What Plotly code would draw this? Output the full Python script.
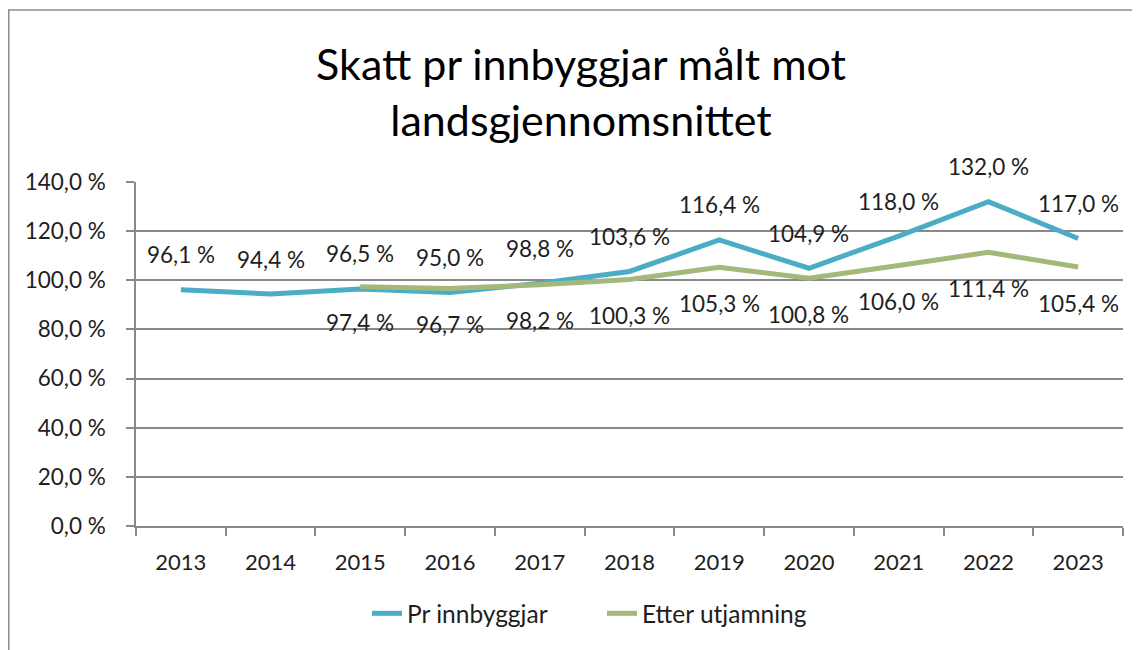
import plotly.graph_objects as go

years = ["2013", "2014", "2015", "2016", "2017", "2018", "2019", "2020", "2021", "2022", "2023"]
pr_innbyggjar = [96.1, 94.4, 96.5, 95.0, 98.8, 103.6, 116.4, 104.9, 118.0, 132.0, 117.0]
etter_utjamning = [None, None, 97.4, 96.7, 98.2, 100.3, 105.3, 100.8, 106.0, 111.4, 105.4]
y_ticks = [0, 20, 40, 60, 80, 100, 120, 140]

FONT = "Lato"
BLUE = "#4bacc6"
GREEN = "#a3b87a"
GRID = "#898989"
TXT = "#1e1e1e"

def fmt(v):
    return f"{v:.1f}".replace(".", ",") + " %"

fig = go.Figure()
fig.add_trace(go.Scatter(x=years, y=pr_innbyggjar, mode="lines", name="Pr innbyggjar",
                         line=dict(color=BLUE, width=5), hoverinfo="skip"))
fig.add_trace(go.Scatter(x=years, y=etter_utjamning, mode="lines", name="Etter utjamning",
                         line=dict(color=GREEN, width=5), hoverinfo="skip"))

annotations = []
for i, v in enumerate(pr_innbyggjar):
    annotations.append(dict(x=i, y=v, xref="x", yref="y", text=fmt(v), showarrow=False,
                            yshift=35, font=dict(family=FONT, size=22.5, color=TXT)))
for i, v in enumerate(etter_utjamning):
    if v is None:
        continue
    annotations.append(dict(x=i, y=v, xref="x", yref="y", text=fmt(v), showarrow=False,
                            yshift=-36, font=dict(family=FONT, size=22.5, color=TXT)))

# plot area in figure pixels (page is offset by 8px body margin)
L, R, T, B = 128, 1115, 174, 518
PW, PH = R - L, B - T

fig.update_layout(
    width=1140, height=650,
    margin=dict(l=L, r=1140 - R, t=T, b=650 - B),
    paper_bgcolor="white", plot_bgcolor="white",
    separators=", ",
    font=dict(family=FONT, size=22, color=TXT),
    title=dict(text="Skatt pr innbyggjar målt mot<br>landsgjennomsnittet",
               x=573/1140, xanchor="center", xref="container",
               y=1 - 72/650, yanchor="top", yref="container",
               font=dict(family=FONT, size=43, color="#000000")),
    showlegend=True,
    legend=dict(orientation="h", x=(602 - 8 - L) / PW, xanchor="center", y=-0.254, yanchor="middle",
                font=dict(family=FONT, size=24.5, color=TXT),
                entrywidth=190, entrywidthmode="pixels", tracegroupgap=0),
    annotations=annotations,
    shapes=[dict(type="rect", xref="paper", yref="paper",
                 x0=(0.75 - L) / PW, x1=(1150 - L) / PW,
                 y0=(B - 660) / PH, y1=(B - 2) / PH,
                 line=dict(color="#8c8c8c", width=1.5), layer="below")],
)
fig.update_xaxes(type="category", range=[-0.5, 10.5], showline=True, linecolor=GRID, linewidth=1.5,
                 ticks="outside", tickson="boundaries", ticklen=8, tickcolor=GRID, tickwidth=1.5,
                 ticklabelstandoff=16,
                 showgrid=False, tickfont=dict(size=22, color=TXT), fixedrange=True)
fig.update_yaxes(range=[0, 140], tickvals=y_ticks, ticktext=[fmt(v) for v in y_ticks],
                 showline=True, linecolor=GRID, linewidth=1.5,
                 ticks="outside", ticklen=8, tickcolor=GRID, tickwidth=1.5,
                 ticklabelstandoff=16,
                 showgrid=True, gridcolor=GRID, gridwidth=1.5, zeroline=False,
                 tickfont=dict(size=22.5, color=TXT), fixedrange=True)

fig.write_html("out.html")
